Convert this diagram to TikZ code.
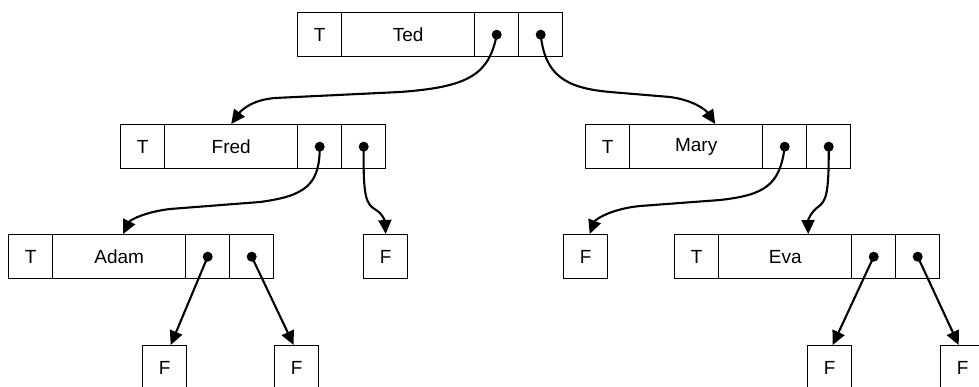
\documentclass[tikz,border=0pt]{standalone}
\usepackage{fontspec}
\setmainfont{Liberation Sans}
\usetikzlibrary{arrows.meta}
\tikzset{
  cell/.style={draw, line width=1.4pt, minimum height=44pt, inner sep=0pt,
    anchor=north west, font=\fontsize{19}{22}\selectfont},
  tcell/.style={cell, minimum width=44pt},
  ncell/.style={cell, minimum width=133pt},
  pcell/.style={cell, minimum width=44pt},
  ptr/.style={line width=2.1pt, -{Triangle[length=14pt,width=13pt]}},
}
\newcommand\mkrecord[4]{%
  \node[tcell] (#1T) at (#2,#3) {T};
  \node[ncell] (#1N) at ({#2+44},#3) {#4};
  \node[pcell] (#1L) at ({#2+177},#3) {};
  \node[pcell] (#1R) at ({#2+221},#3) {};
  \fill (#1L.center) circle (5pt);
  \fill (#1R.center) circle (5pt);
}
\begin{document}
\begin{tikzpicture}[x=1pt,y=-1pt]
\clip (0,0) rectangle (979,387);
\mkrecord{Ted}{297}{12}{Ted}
\mkrecord{Fred}{120}{124}{Fred}
\mkrecord{Mary}{585}{124}{Mary}
\mkrecord{Adam}{8}{234}{Adam}
\mkrecord{Eva}{674}{234}{Eva}
\node[tcell] (F1) at (363,234) {F};
\node[tcell] (F2) at (563,234) {F};
\node[tcell] (F3) at (142,345) {F};
\node[tcell] (F4) at (274,345) {F};
\node[tcell] (F5) at (807,345) {F};
\node[tcell] (F6) at (940,345) {F};
% curved pointers
\draw[ptr] (TedL.center) .. controls (489,75) and (468,87) .. (400,92) -- (275,98)
  .. controls (250,100) and (240,112) .. (FredN.north);
\draw[ptr] (TedR.center) .. controls (545,75) and (565,88) .. (610,92) -- (670,97)
  .. controls (693,100) and (706,110) .. ([xshift=19pt]MaryN.north);
\draw[ptr] (FredL.center) .. controls (320,185) and (305,196) .. (260,202) -- (170,209)
  .. controls (145,212) and (130,220) .. ([xshift=4pt]AdamN.north);
\draw[ptr] (FredR.center) .. controls (363,198) and (366,204) .. (376,210)
  .. controls (383,214) and (385,222) .. (F1.north);
\draw[ptr] (MaryL.center) .. controls (780,185) and (765,195) .. (720,200) -- (640,206)
  .. controls (610,209) and (595,220) .. ([xshift=4pt]F2.north);
\draw[ptr] (MaryR.center) .. controls (829,195) and (826,201) .. (818,207)
  .. controls (811,212) and (808,220) .. ([xshift=23pt]EvaN.north);
% straight pointers
\draw[ptr] (AdamL.center) -- ([xshift=6pt]F3.north);
\draw[ptr] (AdamR.center) -- ([xshift=-3pt]F4.north);
\draw[ptr] (EvaL.center) -- ([xshift=3pt]F5.north);
\draw[ptr] (EvaR.center) -- ([xshift=-4pt]F6.north);
\end{tikzpicture}
\end{document}
